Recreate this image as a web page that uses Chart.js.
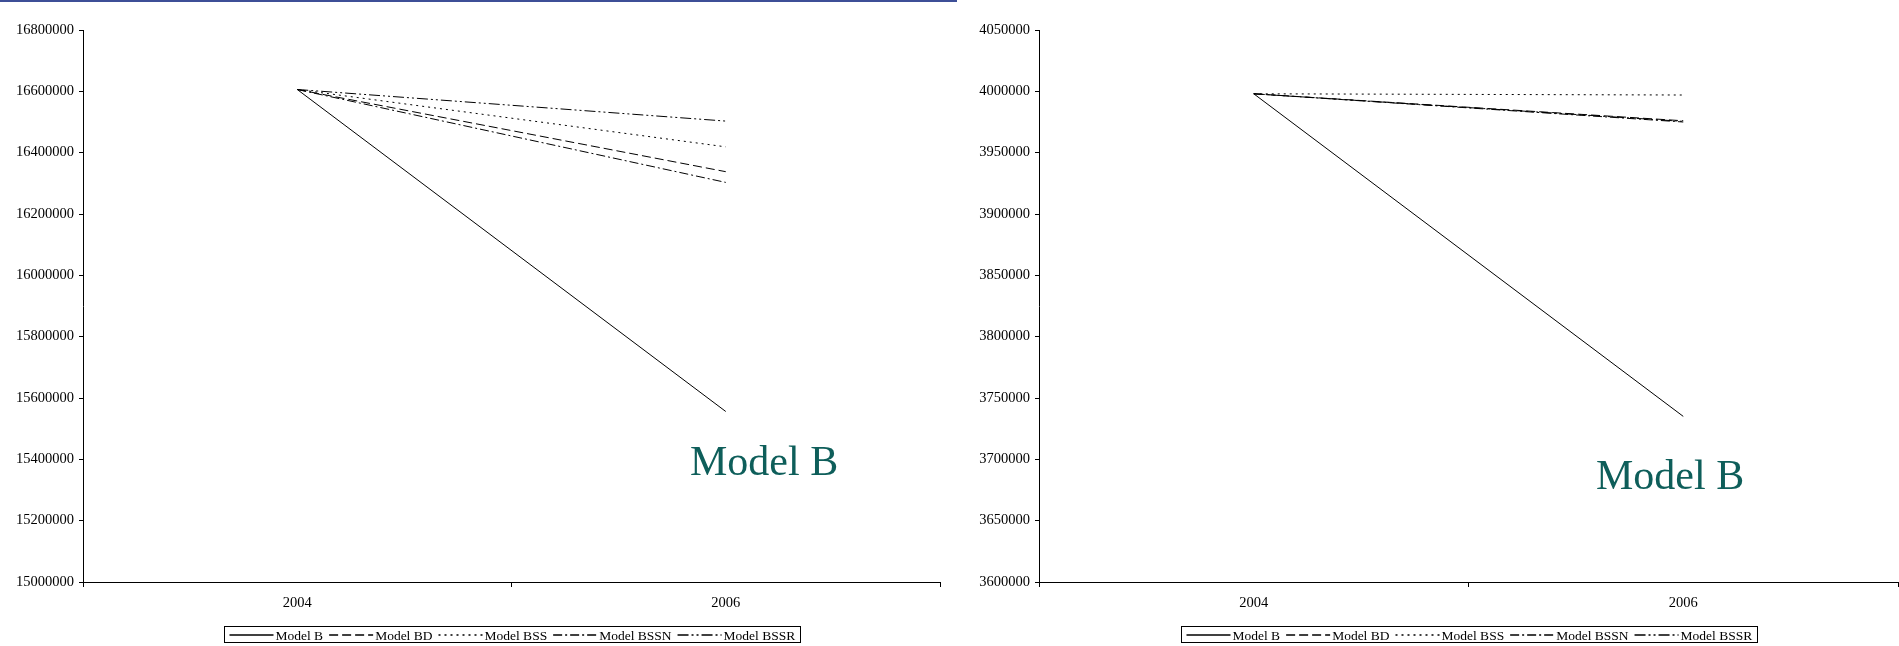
<!DOCTYPE html>
<html>
<head>
<meta charset="utf-8">
<script src="https://cdn.jsdelivr.net/npm/chart.js@4/dist/chart.umd.min.js"></script>
<style>
  html, body { margin: 0; padding: 0; background: #fff; width: 1899px; height: 646px; overflow: hidden; }
  body { position: relative; }
  #topRule { position: absolute; left: 0; top: 0; width: 957px; height: 2px; background: #3d4f97; }
  .panel { position: absolute; top: 0; height: 646px; }
  #leftPanel { left: 0; width: 960px; }
  #rightPanel { left: 960px; width: 939px; }
  .tag { position: absolute; font-family: "Liberation Serif", "Times New Roman", serif; font-size: 42px;
         color: #0e5e5a; white-space: nowrap; line-height: 1; }
</style>
</head>
<body>
<div id="topRule"></div>
<div class="panel" id="leftPanel"><canvas id="leftChart" width="960" height="646" style="width:960px;height:646px"></canvas></div>
<div class="panel" id="rightPanel"><canvas id="rightChart" width="939" height="646" style="width:939px;height:646px"></canvas></div>
<div class="tag" style="left:690px;top:440px">Model B</div>
<div class="tag" style="left:1596px;top:454px">Model B</div>

<script>
// Years on the category axis
const years = ['2004', '2006'];
const seriesNames = ['Model B', 'Model BD', 'Model BSS', 'Model BSSN', 'Model BSSR'];

// Left panel: values per model
const leftModelB    = [16606000, 15556000];
const leftModelBD   = [16606000, 16338000];
const leftModelBSS  = [16606000, 16419000];
const leftModelBSSN = [16606000, 16303000];
const leftModelBSSR = [16606000, 16503000];
const leftAxisMin = 15000000, leftAxisMax = 16800000, leftAxisStep = 200000;

// Right panel: values per model
const rightModelB    = [3998000, 3735000];
const rightModelBD   = [3998000, 3976000];
const rightModelBSS  = [3998000, 3997000];
const rightModelBSSN = [3998000, 3975000];
const rightModelBSSR = [3998000, 3975500];
const rightAxisMin = 3600000, rightAxisMax = 4050000, rightAxisStep = 50000;

// Line styles, one per model
const dashes = [[], [9, 4], [2, 4], [9, 3, 2, 3], [11, 3, 2, 3, 2, 3]];
const serif = '"Liberation Serif", "Times New Roman", serif';

// Boxed legend with line samples under the plot
const boxedLegend = {
  id: 'boxedLegend',
  afterDraw(chart, args, opts) {
    const ctx = chart.ctx;
    const area = chart.chartArea;
    ctx.save();
    ctx.font = opts.fontSize + 'px ' + serif;
    const items = chart.data.datasets.map(ds => ({
      label: ds.label, dash: ds.borderDash || [], w: ctx.measureText(ds.label).width
    }));
    const sample = opts.sampleLength, afterSample = 2, between = 6, padX = 5;
    const total = padX * 2 + items.reduce((s, it) => s + sample + afterSample + it.w, 0) + between * (items.length - 1);
    const left = Math.round((area.left + area.right) / 2 - total / 2) + 0.5;
    const top = opts.top + 0.5;
    const h = opts.height;
    ctx.setLineDash([]);
    ctx.lineWidth = 1;
    ctx.strokeStyle = '#000';
    ctx.strokeRect(left, top, Math.round(total), h);
    const midY = Math.round(top + h / 2);
    let x = left + padX;
    ctx.textBaseline = 'middle';
    ctx.textAlign = 'left';
    ctx.fillStyle = '#000';
    items.forEach(it => {
      ctx.beginPath();
      ctx.setLineDash(it.dash);
      ctx.lineWidth = 1.5;
      ctx.moveTo(x, midY);
      ctx.lineTo(x + sample, midY);
      ctx.stroke();
      ctx.setLineDash([]);
      x += sample + afterSample;
      ctx.fillText(it.label, x, midY + 1);
      x += it.w + between;
    });
    ctx.restore();
  }
};

function buildDatasets(values) {
  return values.map((v, i) => ({
    label: seriesNames[i],
    data: v,
    borderColor: '#000',
    borderWidth: 1,
    borderDash: dashes[i],
    pointRadius: 0,
    pointHoverRadius: 0,
    tension: 0,
    fill: false
  }));
}

function buildChart(canvasId, values, yMin, yMax, yStep, axisWidth, rightPad) {
  return new Chart(document.getElementById(canvasId), {
    type: 'line',
    data: { labels: years, datasets: buildDatasets(values) },
    options: {
      responsive: false,
      animation: false,
      devicePixelRatio: 1,
      layout: { padding: { top: 30, right: rightPad, bottom: 0, left: 0 } },
      plugins: {
        legend: { display: false },
        tooltip: { enabled: false },
        boxedLegend: { top: 626, height: 16, fontSize: 13.5, sampleLength: 44 }
      },
      scales: {
        x: {
          type: 'category',
          offset: true,
          grid: { offset: true, drawOnChartArea: false, drawTicks: true, tickLength: 5, color: '#000', lineWidth: 1 },
          border: { display: true, color: '#000', width: 1 },
          ticks: { color: '#000', padding: 7, font: { family: serif, size: 14.5 }, maxRotation: 0 },
          afterFit(scale) { scale.height = 64; }
        },
        y: {
          min: yMin,
          max: yMax,
          grid: { drawOnChartArea: false, drawTicks: true, tickLength: 4, color: '#000', lineWidth: 1 },
          border: { display: true, color: '#000', width: 1 },
          ticks: {
            stepSize: yStep,
            autoSkip: false,
            color: '#000',
            padding: 5,
            font: { family: serif, size: 14.5 },
            callback: v => String(Math.round(v))
          },
          afterFit(scale) { scale.width = axisWidth; }
        }
      }
    },
    plugins: [boxedLegend]
  });
}

buildChart('leftChart',
  [leftModelB, leftModelBD, leftModelBSS, leftModelBSSN, leftModelBSSR],
  leftAxisMin, leftAxisMax, leftAxisStep, 83, 20);

buildChart('rightChart',
  [rightModelB, rightModelBD, rightModelBSS, rightModelBSSN, rightModelBSSR],
  rightAxisMin, rightAxisMax, rightAxisStep, 79, 1);
</script>
</body>
</html>
